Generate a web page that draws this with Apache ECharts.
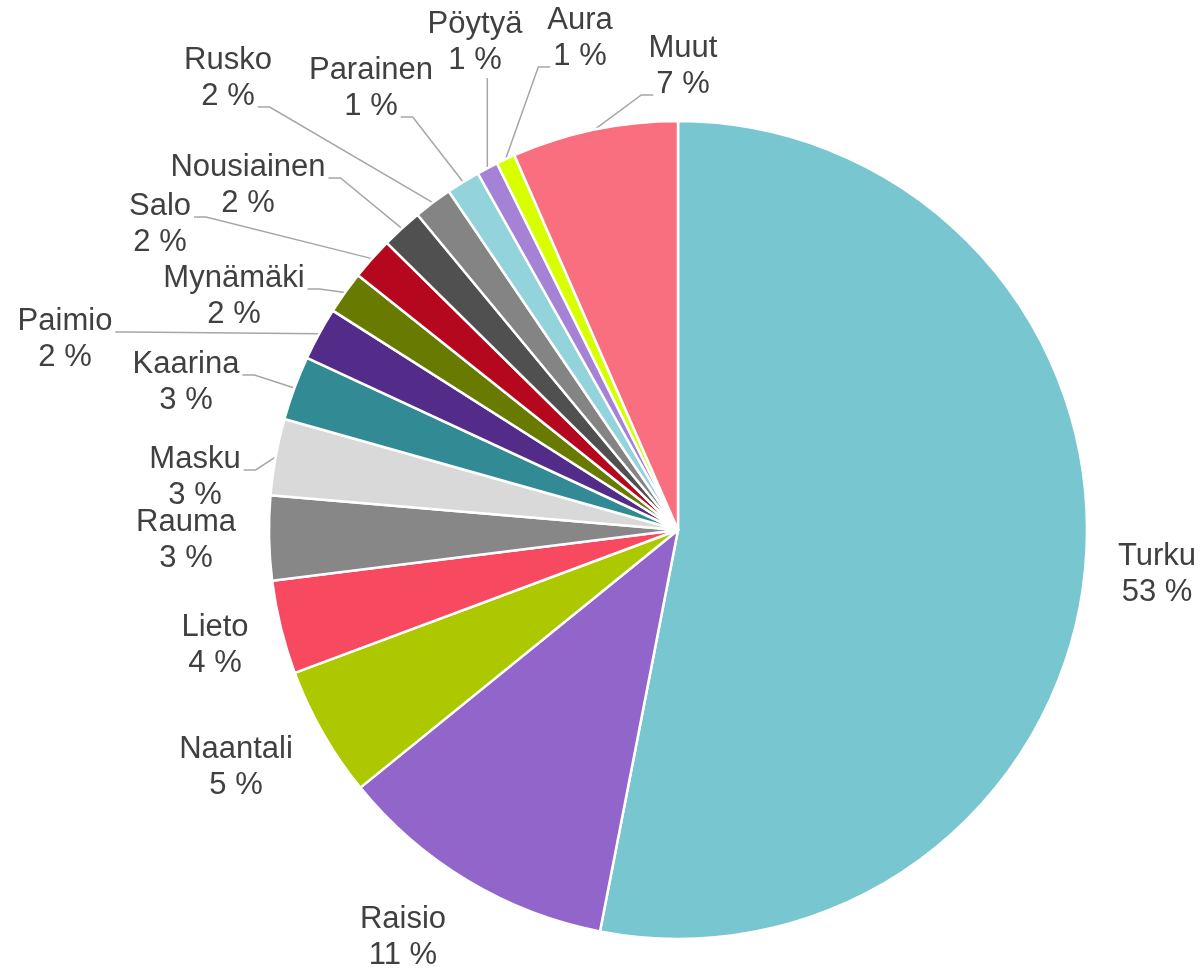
<!DOCTYPE html>
<html>
<head>
<meta charset="utf-8">
<title>Kunnat</title>
<script src="https://cdn.jsdelivr.net/npm/echarts@6/dist/echarts.min.js"></script>
<style>
  html, body { margin: 0; padding: 0; background: #fff; }
  #chart { width: 1202px; height: 973px; }
</style>
</head>
<body>
<div id="chart"></div>
<script>
const names = ['Turku', 'Raisio', 'Naantali', 'Lieto', 'Rauma', 'Masku', 'Kaarina', 'Paimio',
  'Mynämäki', 'Salo', 'Nousiainen', 'Rusko', 'Parainen', 'Pöytyä', 'Aura', 'Muut']
const shares = [53.06, 11.1, 5.17, 3.7, 3.33, 3.02, 2.54, 2.1,
  1.69, 1.69, 1.62, 1.52, 1.33, 0.84, 0.75, 6.55]
const colors = ['#78C6D0', '#9165CA', '#AEC800', '#F7495F', '#878787', '#D9D9D9', '#318A94', '#532C8A',
  '#687A00', '#B5081F', '#505050', '#848484', '#93D3DC', '#A582D6', '#D7FF00', '#F96F80']

// these labels sit right next to their slice, no leader line
const noLeader = ['Turku', 'Raisio', 'Naantali', 'Lieto', 'Rauma']
// label centres, placed by hand like in the original
const labelCenters = [[1157, 574], [403, 937], [236, 767], [215, 645], [186, 540], [195, 477],
  [186, 382], [65, 339], [234, 296], [160, 224], [248, 185], [228, 78], [371, 88], [475, 42],
  [580, 38], [683, 66]]

const cx = 678
const cy = 530
const r = 409
const font = '31px "Liberation Sans", Arial, sans-serif'

const total = shares.reduce((a, b) => a + b, 0)
const pct = v => Math.round(v / total * 100) + ' %'

// mid angle of every slice, clockwise from 12 o'clock
const midAngles = []
let acc = 0
shares.forEach(v => {
  midAngles.push((acc + v / 2) / total * 2 * Math.PI)
  acc += v
})

const ctx = document.createElement('canvas').getContext('2d')
ctx.font = font
const textWidth = s => ctx.measureText(s).width

// leader line like excel: from the label text to the middle of the slice edge
function leader(i) {
  const [lx, ly] = labelCenters[i]
  const px = cx + r * Math.sin(midAngles[i])
  const py = cy - r * Math.cos(midAngles[i])
  const lines = [names[i], pct(shares[i])]
  if (py > ly + 36 && Math.abs(px - lx) < textWidth(lines[1]) / 2 + 2) {
    return [[px, ly + 36], [px, py]]
  }
  const side = px > lx ? 1 : -1
  const k = (py - ly) / Math.abs(px - lx) > 0.4 ? 1 : 0
  const ax = lx + side * (textWidth(lines[k]) / 2 + 3)
  const ay = ly + (k === 0 ? -7 : 29)
  return [[ax, ay], [ax + side * 12, ay], [px, py]]
}

const chart = echarts.init(document.getElementById('chart'))
chart.setOption({
  animation: false,
  color: colors,
  series: [
    {
      type: 'pie',
      center: [cx, cy],
      radius: r,
      startAngle: 90,
      clockwise: true,
      avoidLabelOverlap: false,
      itemStyle: { borderColor: '#fff', borderWidth: 2.5 },
      label: {
        formatter: p => p.name + '\n' + pct(p.value),
        fontFamily: '"Liberation Sans", Arial, sans-serif',
        fontSize: 31,
        lineHeight: 36,
        color: '#404040'
      },
      labelLine: {
        show: true,
        lineStyle: { color: '#A6A6A6', width: 1.5 }
      },
      labelLayout: p => {
        const i = p.dataIndex
        const out = {
          x: labelCenters[i][0],
          y: labelCenters[i][1],
          align: 'center',
          verticalAlign: 'middle'
        }
        if (noLeader.indexOf(names[i]) < 0) out.labelLinePoints = leader(i)
        return out
      },
      data: names.map((n, i) => ({
        name: n,
        value: shares[i],
        labelLine: { show: noLeader.indexOf(n) < 0 }
      }))
    }
  ]
})
</script>
</body>
</html>
